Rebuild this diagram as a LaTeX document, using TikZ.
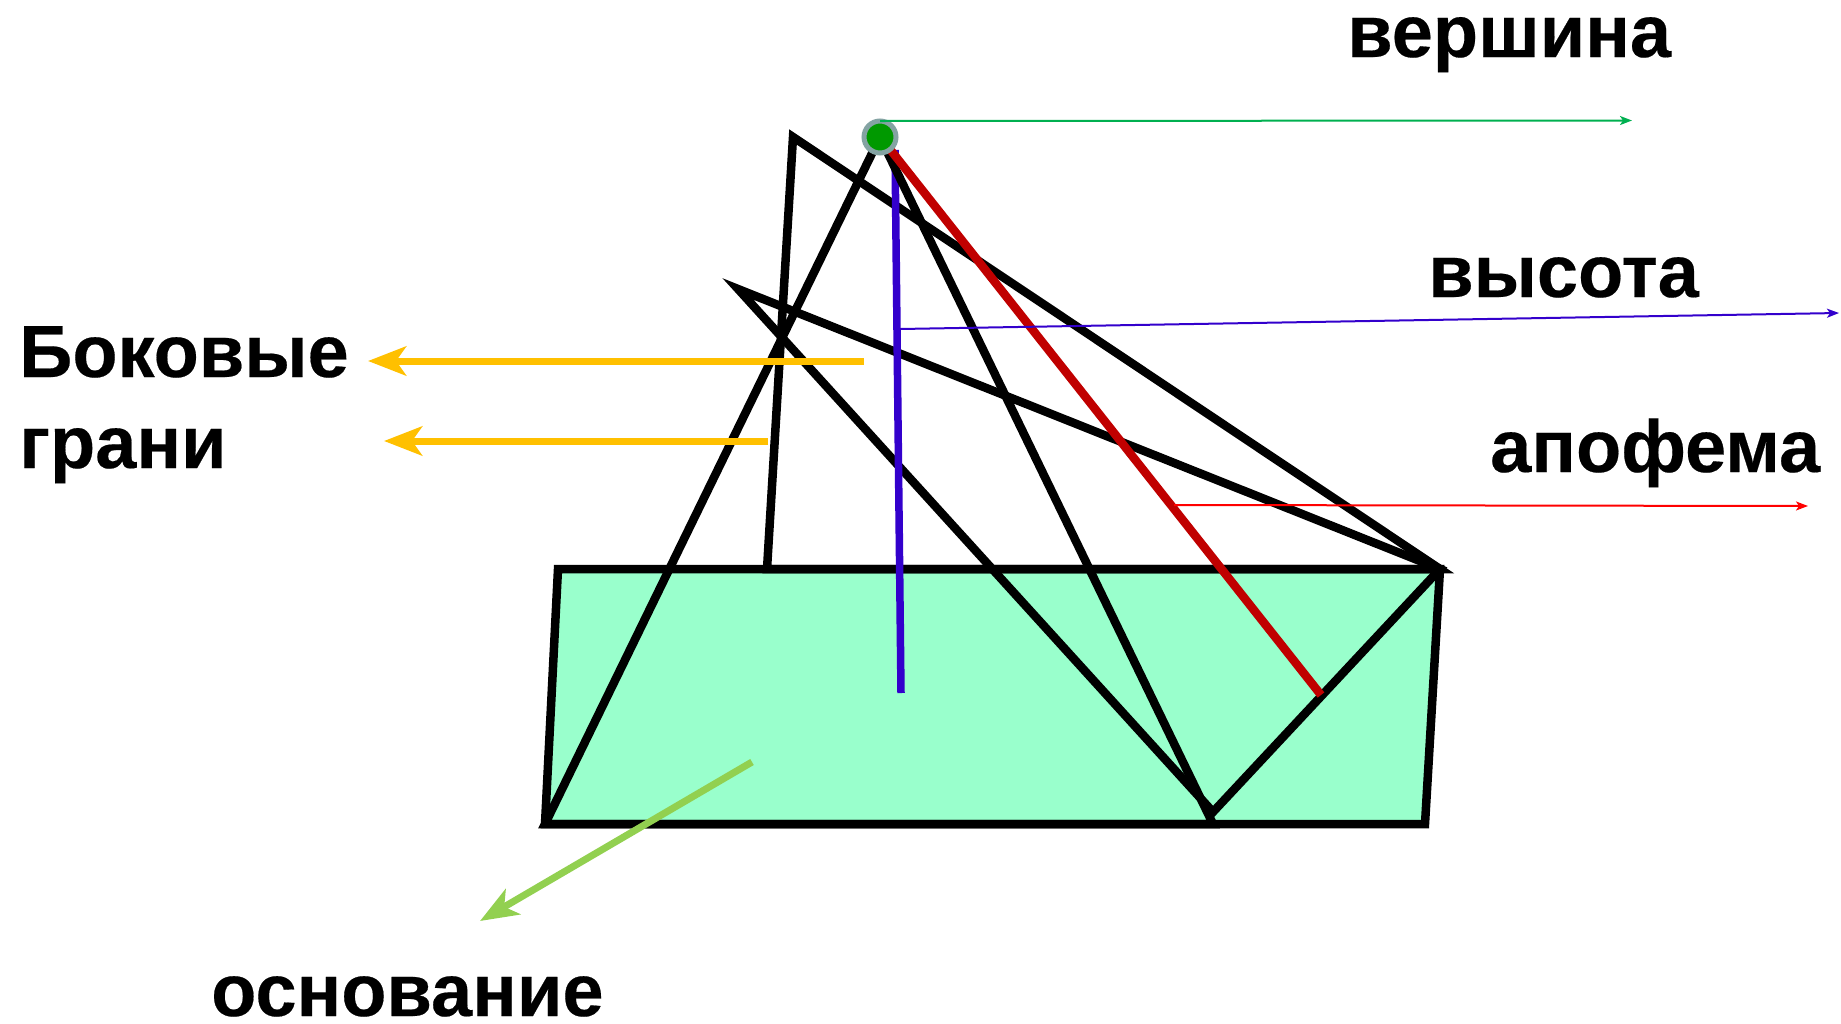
\documentclass[tikz,border=0pt]{standalone}
\usepackage{fontspec}
\setmainfont{Liberation Sans}[BoldFeatures={FakeBold=0.25}]
\usetikzlibrary{arrows.meta}
\definecolor{basefill}{HTML}{99FFCC}
\definecolor{heightblue}{HTML}{3300CC}
\definecolor{apored}{HTML}{C00000}
\definecolor{faceyellow}{HTML}{FFC000}
\definecolor{baselime}{HTML}{92D050}
\definecolor{topgreen}{HTML}{00B050}
\definecolor{apexgreen}{HTML}{009900}
\definecolor{apexring}{HTML}{84A3A3}
\tikzset{
 x=1pt,y=-1pt,
 edge/.style={draw=black,line width=8.5pt,line join=miter,miter limit=10},
 bigarrow/.style={line width=7pt,-{Stealth[length=38pt,width=29pt,inset=10pt]}},
 thinarrow/.style={line width=2pt,-{Stealth[length=12pt,width=9pt,inset=3pt]}},
 lab/.style={inner sep=0pt,anchor=base west,font=\fontsize{74}{78}\selectfont\bfseries},
}
\begin{document}
\begin{tikzpicture}
\useasboundingbox (0,0) rectangle (1841,1023);
\coordinate (tl) at (558,569);
\coordinate (tr) at (1440,569);
\coordinate (br) at (1425,824);
\coordinate (bl) at (545,824);
\coordinate (apex) at (880,137);
\coordinate (back) at (793,137);
\coordinate (backfoot) at (767,569);
\coordinate (left) at (738,289);
\coordinate (mid) at (1213,812);
\coordinate (front) at (1213,824);
\coordinate (blueTop) at (895,150);
\coordinate (blueEnd) at (901,693);
\coordinate (redTop) at (889,148);
\coordinate (redEnd) at (1321,695);
\filldraw[edge,fill=basefill] (tl) -- (tr) -- (br) -- (bl) -- cycle;
\draw[edge] (backfoot) -- (back) -- (tr) -- cycle;
\draw[edge] (tr) -- (left) -- (mid) -- cycle;
\draw[heightblue,line width=7.5pt] (blueTop) -- (blueEnd);
\draw[edge] (bl) -- (apex) -- (front) -- cycle;
\draw[apored,line width=8.5pt] (redTop) -- (redEnd);
\coordinate (y1a) at (864,361); \coordinate (y1b) at (368,361);
\coordinate (y2a) at (768,441); \coordinate (y2b) at (384,441);
\draw[bigarrow,faceyellow] (y1a) -- (y1b);
\draw[bigarrow,faceyellow] (y2a) -- (y2b);
\coordinate (l1) at (752,762); \coordinate (l2) at (480,921);
\draw[bigarrow,baselime] (l1) -- (l2);
\node[circle,draw=apexring,fill=apexgreen,line width=5pt,minimum size=32pt,inner sep=0pt] (vertex) at (apex) {};
\coordinate (g1) at (880,121); \coordinate (g2) at (1632,120.5);
\draw[thinarrow,topgreen] (g1) -- (g2);
\coordinate (b1) at (900,329); \coordinate (b2) at (1839,313);
\draw[thinarrow,heightblue] (b1) -- (b2);
\coordinate (r1) at (1174,505); \coordinate (r2) at (1808,506);
\draw[thinarrow,red] (r1) -- (r2);
\node[lab] (t1) at (1347,57) {вершина};
\node[lab] (t2) at (1428,297) {высота};
\node[lab] (t3) at (1490,472) {апофема};
\node[lab] (t4) at (19,377) {Боковые};
\node[lab] (t5) at (19,468) {грани};
\node[lab] (t6) at (211,1016) {основание};
\end{tikzpicture}
\end{document}
